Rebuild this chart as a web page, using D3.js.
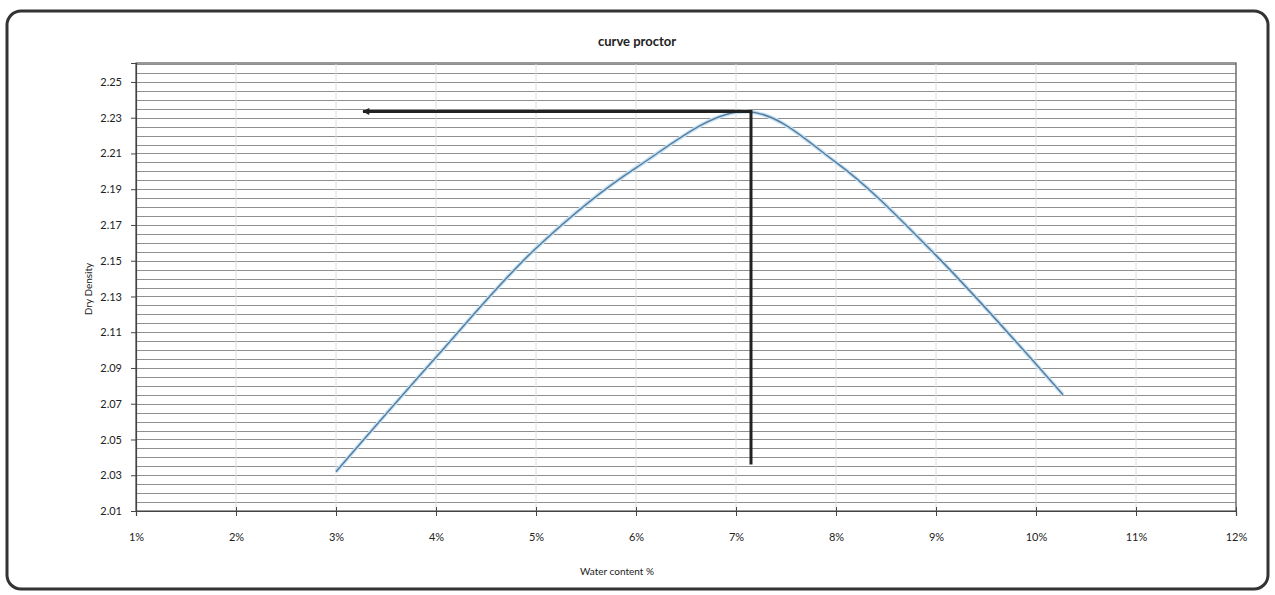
<!DOCTYPE html>
<html lang="en">
<head>
<meta charset="UTF-8">
<title>curve proctor</title>
<script src="https://d3js.org/d3.v7.min.js"></script>
<style>
  body { margin: 0; background: #fff; }
  text { font-family: Lato, "Open Sans", sans-serif; fill: #222; }
</style>
</head>
<body>
<div id="chart"></div>
<script>
// data
var moisture = [3.0, 4.0, 5.0, 6.0, 7.1, 8.0, 9.0, 10.27];       // water content %
var dryDensity = [2.032, 2.096, 2.157, 2.202, 2.2335, 2.205, 2.153, 2.075];
var xTicks = [1, 2, 3, 4, 5, 6, 7, 8, 9, 10, 11, 12];
var yTicks = [2.01, 2.03, 2.05, 2.07, 2.09, 2.11, 2.13, 2.15, 2.17, 2.19, 2.21, 2.23, 2.25];
// optimum point guide lines
var omc = 7.15, mdd = 2.2335;
var guideLeft = 3.27, guideBottom = 2.036;

var W = 1275, H = 595;
var margin = {top: 63, right: 39, bottom: 84, left: 136};

var svg = d3.select("#chart").append("svg")
    .attr("width", W)
    .attr("height", H);

// outer frame
svg.append("rect")
    .attr("x", 7).attr("y", 11)
    .attr("width", 1261).attr("height", 578)
    .attr("rx", 14)
    .attr("fill", "#fff")
    .attr("stroke", "#333")
    .attr("stroke-width", 3);

var x = d3.scaleLinear().domain([1, 12]).range([margin.left, W - margin.right]);
var y = d3.scaleLinear().domain([2.01, 2.2606]).range([H - margin.bottom, margin.top]);

// minor horizontal grid every 0.005
var minor = d3.range(0, 51).map(function(i) { return 2.01 + i * 0.005; })
    .filter(function(v) { return v <= 2.2606; });
svg.append("g").selectAll("line")
    .data(minor)
    .enter().append("line")
    .attr("x1", x(1)).attr("x2", x(12))
    .attr("y1", function(d) { return Math.round(y(d)) + 0.5; })
    .attr("y2", function(d) { return Math.round(y(d)) + 0.5; })
    .attr("stroke", "#8f8f8f")
    .attr("stroke-width", 1);

// vertical grid
svg.append("g").selectAll("line")
    .data(xTicks)
    .enter().append("line")
    .attr("x1", function(d) { return x(d); })
    .attr("x2", function(d) { return x(d); })
    .attr("y1", y.range()[1]).attr("y2", y.range()[0])
    .attr("stroke", "#dcdcdc")
    .attr("stroke-width", 1);

// plot border
svg.append("rect")
    .attr("x", x(1)).attr("y", margin.top)
    .attr("width", x(12) - x(1)).attr("height", y(2.01) - margin.top)
    .attr("fill", "none")
    .attr("stroke", "#555")
    .attr("stroke-width", 1.2);

// axes
var yAxis = svg.append("g")
    .attr("transform", "translate(" + x(1) + ",0)")
    .call(d3.axisLeft(y).tickValues(yTicks).tickSize(5).tickPadding(9)
        .tickFormat(d3.format(".2f")));
var xAxis = svg.append("g")
    .attr("transform", "translate(0," + y(2.01) + ")")
    .call(d3.axisBottom(x).tickValues(xTicks).tickSize(5).tickPadding(17)
        .tickFormat(function(d) { return d + "%"; }));
xAxis.selectAll(".tick line").attr("y1", -4);
[xAxis, yAxis].forEach(function(a) {
    a.select(".domain").attr("stroke", "#444").attr("stroke-width", 1.2);
    a.selectAll(".tick line").attr("stroke", "#444");
    a.selectAll("text").style("font-size", "11px").style("font-family", "Lato, sans-serif").attr("fill", "#222");
});

// curve
var line = d3.line()
    .x(function(d, i) { return x(moisture[i]); })
    .y(function(d) { return y(d); })
    .curve(d3.curveCatmullRom.alpha(0.5));
svg.append("path")
    .datum(dryDensity)
    .attr("d", line)
    .attr("fill", "none")
    .attr("stroke", "#c6e4f6")
    .attr("stroke-width", 4);
svg.append("path")
    .datum(dryDensity)
    .attr("d", line)
    .attr("fill", "none")
    .attr("stroke", "#5b7d9e")
    .attr("stroke-width", 1.5);

// guide lines to the peak
svg.append("defs").append("marker")
    .attr("id", "arrow")
    .attr("viewBox", "0 0 10 10")
    .attr("refX", 9).attr("refY", 5)
    .attr("markerUnits", "userSpaceOnUse")
    .attr("markerWidth", 9).attr("markerHeight", 7)
    .attr("orient", "auto-start-reverse")
    .append("path")
    .attr("d", "M0,0 L10,5 L0,10 z")
    .attr("fill", "#222");

svg.append("path")
    .attr("d", "M" + x(omc) + "," + y(guideBottom) + " L" + x(omc) + "," + y(mdd) + " L" + x(guideLeft) + "," + y(mdd))
    .attr("fill", "none")
    .attr("stroke", "#222")
    .attr("stroke-width", 3)
    .attr("marker-end", "url(#arrow)");

// titles
svg.append("text")
    .attr("x", 637).attr("y", 46)
    .attr("text-anchor", "middle")
    .style("font-size", "13px")
    .style("font-weight", "bold")
    .text("curve proctor");

svg.append("text")
    .attr("x", 617).attr("y", 575)
    .attr("text-anchor", "middle")
    .style("font-size", "10px")
    .text("Water content %");

svg.append("text")
    .attr("transform", "translate(92," + ((margin.top + y(2.01)) / 2 + 2) + ") rotate(-90)")
    .attr("text-anchor", "middle")
    .style("font-size", "10px")
    .text("Dry Density");
</script>
</body>
</html>
